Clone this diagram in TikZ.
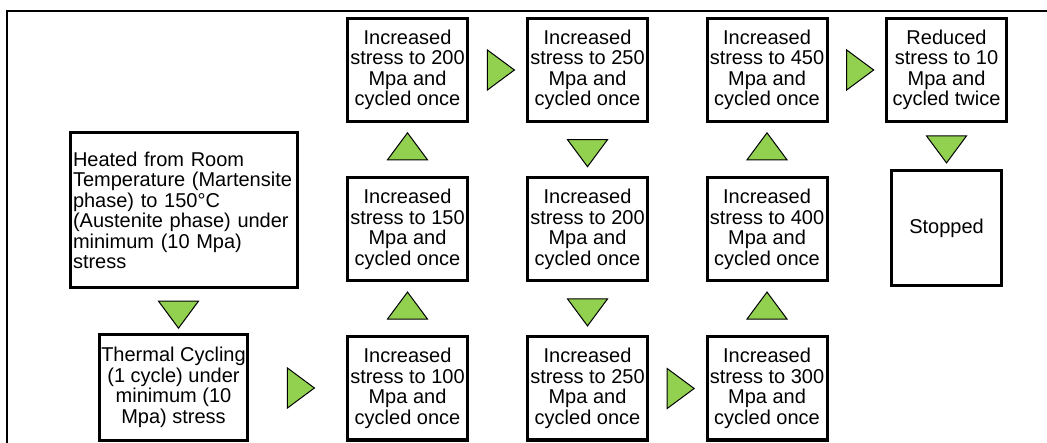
\documentclass[tikz,border=0pt]{standalone}
\usepackage{fontspec}
\setmainfont{Liberation Sans}
\usetikzlibrary{shapes.geometric,calc}
\definecolor{arrowgreen}{HTML}{92D050}

\begin{document}
\begin{tikzpicture}[x=1pt,y=-1pt,
  box/.style={draw,line width=3pt,inner sep=0,align=center,
    font=\fontsize{20}{20.5}\selectfont},
  tri/.style={draw,line width=1pt,fill=arrowgreen,isosceles triangle,
    isosceles triangle stretches,minimum width=40,minimum height=27,inner sep=0}]
\useasboundingbox (0,0) rectangle (1047,443);
\draw[line width=1.3pt] (7,443) -- (7,11) -- (1047,11);

\node[box,minimum height=155,text width=221,inner sep=3pt,align=left]
  (heat) at (183.5,210.5) {Heated from Room\\Temperature (Martensite\\phase) to 150°C\\(Austenite phase) under\\minimum (10 Mpa)\\stress};
\node[box,minimum width=148,minimum height=106]
  (therm) at (173.5,387.5) {Thermal Cycling\\(1 cycle) under\\minimum (10\\Mpa) stress};
\foreach \x/\y/\n [count=\i] in {407.5/388.5/100, 407.5/229.5/150, 407.5/70/200,
                                 587.5/70/250,    587.5/229.5/200, 587.5/388.5/250,
                                 767/388.5/300,   767/229.5/400,   767/70/450}
    \node[box,minimum width=120,minimum height=103]
      (inc\i) at (\x, \y) {Increased\\stress to \n\\Mpa and\\cycled once};
\node[box,minimum width=120,minimum height=103]
  (reduce) at (946.5,70) {Reduced\\stress to 10\\Mpa and\\cycled twice};
\node[box,minimum width=110,minimum height=115]
  (stop) at (946.5,228) {Stopped};

\foreach \a/\b/\r [count=\i] in {heat.south/therm.north/-90, therm.east/inc1.west/0,
                                 inc1.north/inc2.south/90,  inc2.north/inc3.south/90,
                                 inc3.east/inc4.west/0,     inc4.south/inc5.north/-90,
                                 inc5.south/inc6.north/-90, inc6.east/inc7.west/0,
                                 inc7.north/inc8.south/90,  inc8.north/inc9.south/90,
                                 inc9.east/reduce.west/0,   reduce.south/stop.north/-90}
    \node[tri,rotate=\r] (tri\i) at ($(\a)!0.5!(\b)$) {};
\end{tikzpicture}
\end{document}
